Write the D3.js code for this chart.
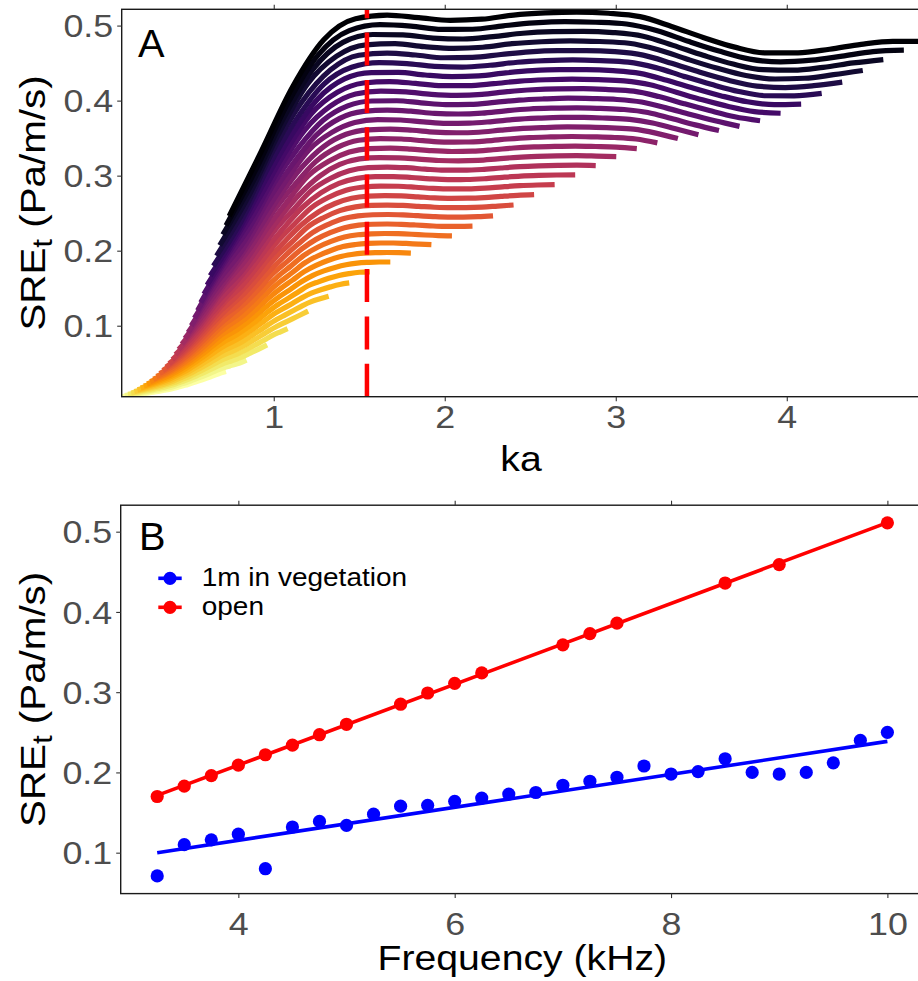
<!DOCTYPE html>
<html>
<head>
<meta charset="utf-8">
<script src="https://cdn.jsdelivr.net/npm/d3@7/dist/d3.min.js"></script>
<style>
  html, body { margin: 0; padding: 0; background: #ffffff; overflow: hidden; }
  svg { display: block; }
</style>
</head>
<body>
<svg id="fig" width="918" height="981"></svg>
<script>
// ---------------- Panel A: SRE_t against ka ----------------
// SRE_t profile of the 10 kHz series over ka
const profileKa  = [0.11, 0.2, 0.3, 0.4, 0.5, 0.6, 0.7, 0.8, 0.9, 1.0, 1.1, 1.2, 1.3, 1.4, 1.5, 1.6,
                    1.7, 1.8, 1.9, 2.0, 2.1, 2.2, 2.3, 2.4, 2.5, 2.6, 2.7, 2.8, 2.9, 3.0, 3.1, 3.2,
                    3.3, 3.4, 3.5, 3.6, 3.7, 3.8, 3.9, 4.0, 4.1, 4.2, 4.3, 4.4, 4.5, 4.6, 4.7, 4.81];
const profileSre = [0.034, 0.050, 0.071, 0.096, 0.134, 0.181, 0.232, 0.268, 0.318, 0.372, 0.414, 0.457,
                    0.483, 0.502, 0.511, 0.514, 0.514, 0.512, 0.509, 0.507, 0.507, 0.508, 0.511, 0.514,
                    0.516, 0.517, 0.518, 0.518, 0.517, 0.516, 0.514, 0.509, 0.501, 0.493, 0.485, 0.478,
                    0.471, 0.466, 0.463, 0.463, 0.464, 0.467, 0.470, 0.474, 0.477, 0.479, 0.479, 0.479];
// one curve per frequency (kHz)
const curveFreqKhz = [1.5, 1.75, 2, 2.25, 2.5, 2.75, 3, 3.25, 3.5, 3.75, 4, 4.25, 4.5, 4.75, 5, 5.25,
                      5.5, 5.75, 6, 6.25, 6.5, 6.75, 7, 7.25, 7.5, 7.75, 8, 8.25, 8.5, 8.75, 9, 9.25,
                      9.5, 9.75, 10];
// source radii (mm) sampled along each curve
const radiusMm = [4, 5, 6, 7, 8, 9, 10, 11, 12, 13, 14, 15, 16, 17, 18, 19, 20, 21, 22, 23, 24, 25, 26];
const soundSpeed = 340;          // m/s
const kaMarker = 1.545;          // dashed reference line
const kaTicks = [1, 2, 3, 4];
const sreTicksA = [0.1, 0.2, 0.3, 0.4, 0.5];

// ---------------- Panel B: SRE_t against frequency ----------------
const vegFreqKhz = [3.25, 3.5, 3.75, 4, 4.25, 4.5, 4.75, 5, 5.25, 5.5, 5.75, 6, 6.25, 6.5, 6.75, 7,
                    7.25, 7.5, 7.75, 8, 8.25, 8.5, 8.75, 9, 9.25, 9.5, 9.75, 10];
const vegSre     = [0.071, 0.110, 0.116, 0.123, 0.080, 0.132, 0.139, 0.134, 0.148, 0.158, 0.159, 0.164,
                    0.168, 0.173, 0.175, 0.184, 0.189, 0.194, 0.208, 0.198, 0.201, 0.217, 0.200, 0.198,
                    0.200, 0.212, 0.240, 0.250];
const openFreqKhz = [3.25, 3.5, 3.75, 4, 4.25, 4.5, 4.75, 5, 5.5, 5.75, 6, 6.25, 7, 7.25, 7.5, 8.5, 9, 10];
const openSre     = [0.170, 0.183, 0.196, 0.209, 0.222, 0.234, 0.247, 0.260, 0.285, 0.299, 0.311, 0.324,
                     0.359, 0.373, 0.386, 0.436, 0.459, 0.511];
const freqTicks = [4, 6, 8, 10];
const sreTicksB = [0.1, 0.2, 0.3, 0.4, 0.5];
const seriesNames  = ["1m in vegetation", "open"];
const seriesColors = ["#0000ff", "#ff0000"];

// ---------------- helpers ----------------
const FONT = "'Liberation Sans', Arial, Helvetica, sans-serif";
const WIDE = 1.12;               // horizontal widening of the lettering
const fmt1 = d3.format(".1f");

function linearFit(xs, ys) {
  const mx = d3.mean(xs), my = d3.mean(ys);
  let sxy = 0, sxx = 0;
  xs.forEach((x, i) => { sxy += (x - mx) * (ys[i] - my); sxx += (x - mx) * (x - mx); });
  const b = sxy / sxx;
  return { a: my - b * mx, b };
}

const svg = d3.select("#fig");

function label(g, txt, x, y, size, opts = {}) {
  return g.append("text")
    .attr("transform", `translate(${x},${y}) ${opts.rotate ? `rotate(${opts.rotate})` : ""} scale(${opts.wide || WIDE},1)`)
    .attr("text-anchor", opts.anchor || "start")
    .attr("font-family", FONT)
    .attr("font-size", size)
    .attr("fill", opts.fill || "#000")
    .text(txt);
}

function sreTitle(g, x, y) {
  const t = g.append("text")
    .attr("transform", `translate(${x},${y}) rotate(-90) scale(${WIDE},1)`)
    .attr("text-anchor", "middle")
    .attr("font-family", FONT)
    .attr("font-size", 36)
    .attr("fill", "#000");
  t.append("tspan").text("SRE");
  t.append("tspan").attr("font-size", 28).attr("dy", 7).text("t");
  t.append("tspan").attr("dy", -7).text(" (Pa/m/s)");
}

function styleAxis(g, side) {
  g.select(".domain").remove();
  g.selectAll(".tick line").attr("stroke", "#333333").attr("stroke-width", 1.1);
  g.selectAll(".tick text")
    .attr("font-family", FONT)
    .attr("font-size", 32)
    .attr("fill", "#4d4d4d");
  if (side === "left") {
    g.selectAll(".tick text").attr("x", -8.5 / WIDE).attr("dy", "0.35em")
      .attr("transform", `scale(${WIDE},1)`);
  } else if (side === "bottom") {
    g.selectAll(".tick text").attr("transform", `scale(${WIDE},1)`);
  }
}

function frame(g, p) {
  g.append("rect")
    .attr("x", p.left).attr("y", p.top)
    .attr("width", p.right - p.left).attr("height", p.bottom - p.top)
    .attr("fill", "none").attr("stroke", "#1a1a1a").attr("stroke-width", 1.4);
}

// ================= Panel A =================
const PA = { left: 121.7, right: 924.4, top: 9.3, bottom: 396.7 };
const openFit = linearFit(openFreqKhz, openSre);
const fitAt = f => openFit.a + openFit.b * f;
const profile = d3.scaleLinear().domain(profileKa).range(profileSre).clamp(true);

// each frequency follows the profile, scaled by its fitted open-field SRE_t
const curves = curveFreqKhz.map(f => ({
  f,
  pts: radiusMm.map(a => {
    const ka = 2 * Math.PI * f * a / soundSpeed;
    return [ka, profile(ka) * fitAt(f) / fitAt(10)];
  })
}));

const allKa = curves.flatMap(c => c.pts.map(p => p[0]));
const xA = d3.scaleLinear().domain(d3.extent(allKa)).range([PA.left, PA.right]);
const yA = d3.scaleLinear().domain([0.0054, 0.5217]).range([PA.bottom, PA.top]);
const colorA = d3.scaleSequential(d3.interpolateInferno).domain([10, 1.5]);

const gA = svg.append("g");
gA.append("clipPath").attr("id", "clipA").append("rect")
  .attr("x", PA.left).attr("y", PA.top - 3).attr("width", PA.right - PA.left).attr("height", PA.bottom - PA.top + 3);

const lineA = d3.line().curve(d3.curveMonotoneX).x(d => xA(d[0])).y(d => yA(d[1]));
gA.append("g").attr("clip-path", "url(#clipA)")
  .selectAll("path").data(curves).join("path")
  .attr("d", d => lineA(d.pts))
  .attr("fill", "none")
  .attr("stroke", d => colorA(d.f))
  .attr("stroke-width", 5.2)
  .attr("stroke-linejoin", "round")
  .attr("stroke-linecap", "butt");

gA.append("line")
  .attr("x1", xA(kaMarker)).attr("x2", xA(kaMarker))
  .attr("y1", PA.bottom).attr("y2", PA.top)
  .attr("stroke", "#ff0000").attr("stroke-width", 4.5)
  .attr("stroke-dasharray", "33 14.3");

frame(gA, PA);

gA.append("g").attr("transform", `translate(0,${PA.bottom})`)
  .call(d3.axisBottom(xA).tickValues(kaTicks).tickSize(4.5).tickPadding(3.8).tickFormat(d3.format("d")))
  .call(g => styleAxis(g, "bottom"));
gA.append("g").attr("transform", `translate(0,${PA.top})`)
  .call(d3.axisTop(xA).tickValues(kaTicks).tickSize(4.5).tickFormat(""))
  .call(g => styleAxis(g, "top"));
gA.append("g").attr("transform", `translate(${PA.left},0)`)
  .call(d3.axisLeft(yA).tickValues(sreTicksA).tickSize(4.5).tickFormat(fmt1))
  .call(g => styleAxis(g, "left"));

label(gA, "ka", (PA.left + PA.right) / 2 - 2, 471, 35, { anchor: "middle" });
sreTitle(gA, 45, (PA.top + PA.bottom) / 2);
label(gA, "A", 138, 56.7, 39, { wide: 1.02 });

// ================= Panel B =================
const PB = { left: 120.7, right: 923.9, top: 505.2, bottom: 893.6 };
const fExt = d3.extent(vegFreqKhz.concat(openFreqKhz));
const fPad = (fExt[1] - fExt[0]) * 0.05;
const xB = d3.scaleLinear().domain([fExt[0] - fPad, fExt[1] + fPad]).range([PB.left, PB.right]);
const sExt = d3.extent(vegSre.concat(openSre));
const sPad = (sExt[1] - sExt[0]) * 0.05;
const yB = d3.scaleLinear().domain([sExt[0] - sPad, sExt[1] + sPad]).range([PB.bottom, PB.top]);

const series = [
  { name: seriesNames[0], color: seriesColors[0], fx: vegFreqKhz, sy: vegSre },
  { name: seriesNames[1], color: seriesColors[1], fx: openFreqKhz, sy: openSre }
];

const gB = svg.append("g");
series.forEach(s => {
  const fit = linearFit(s.fx, s.sy);
  const x0 = d3.min(s.fx), x1 = d3.max(s.fx);
  gB.append("line")
    .attr("x1", xB(x0)).attr("y1", yB(fit.a + fit.b * x0))
    .attr("x2", xB(x1)).attr("y2", yB(fit.a + fit.b * x1))
    .attr("stroke", s.color).attr("stroke-width", 3.6);
  gB.append("g").selectAll("circle").data(s.fx.map((f, i) => [f, s.sy[i]])).join("circle")
    .attr("cx", d => xB(d[0])).attr("cy", d => yB(d[1]))
    .attr("r", 6.6).attr("fill", s.color);
});

frame(gB, PB);

gB.append("g").attr("transform", `translate(0,${PB.bottom})`)
  .call(d3.axisBottom(xB).tickValues(freqTicks).tickSize(4.5).tickPadding(14).tickFormat(d3.format("d")))
  .call(g => styleAxis(g, "bottom"));
gB.append("g").attr("transform", `translate(0,${PB.top})`)
  .call(d3.axisTop(xB).tickValues(freqTicks).tickSize(4.5).tickFormat(""))
  .call(g => styleAxis(g, "top"));
gB.append("g").attr("transform", `translate(${PB.left},0)`)
  .call(d3.axisLeft(yB).tickValues(sreTicksB).tickSize(4.5).tickFormat(fmt1))
  .call(g => styleAxis(g, "left"));

label(gB, "Frequency (kHz)", (PB.left + PB.right) / 2, 970, 35, { anchor: "middle" });
sreTitle(gB, 45, (PB.top + PB.bottom) / 2);
label(gB, "B", 139, 550, 39, { wide: 1.02 });

// legend
const legend = gB.append("g");
series.forEach((s, i) => {
  const cy = 578.3 + i * 29;
  legend.append("line").attr("x1", 158.3).attr("x2", 181.7).attr("y1", cy).attr("y2", cy)
    .attr("stroke", s.color).attr("stroke-width", 3.6);
  legend.append("circle").attr("cx", 170).attr("cy", cy).attr("r", 6.6).attr("fill", s.color);
  label(legend, s.name, 201.7, cy + 8, 25);
});
</script>
</body>
</html>
